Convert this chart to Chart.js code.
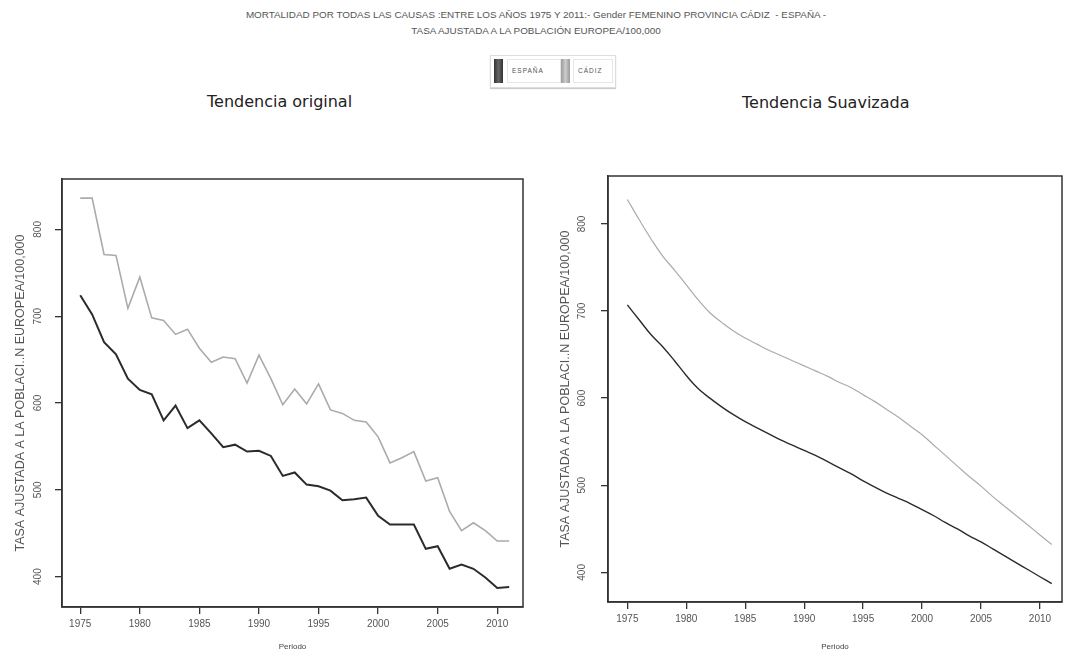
<!DOCTYPE html>
<html lang="es">
<head>
    <meta charset="UTF-8">
    <title>Mortalidad por todas las causas - Cádiz / España</title>
    <script src="https://cdn.jsdelivr.net/npm/chart.js"></script>
    <style>
        body {
            margin: 0;
            width: 1072px;
            height: 657px;
            background: #fff;
            position: relative;
            overflow: hidden;
            font-family: "Liberation Sans", Arial, sans-serif;
        }
        .titulo {
            position: absolute;
            left: 0;
            width: 1072px;
            text-align: center;
            font-size: 9.9px;
            color: #555;
            white-space: pre;
        }
        .leyenda {
            position: absolute;
            left: 490px;
            top: 55px;
            width: 124px;
            height: 31px;
            border: 1px solid #ddd;
            box-shadow: 0 1px 1px #ccc;
        }
        .swatch {
            position: absolute;
            top: 3px;
            width: 9px;
            height: 24px;
        }
        .caja {
            position: absolute;
            top: 3px;
            height: 22px;
            border: 1px solid #e6e6e6;
        }
        .etq {
            position: absolute;
            top: 11px;
            font-size: 6.5px;
            letter-spacing: 1px;
            color: #555;
        }
        .subtitulo {
            position: absolute;
            font-family: "DejaVu Sans", sans-serif;
            font-size: 16px;
            color: #222;
        }
        .grafico { position: absolute; }
    </style>
</head>
<body>

    <div class="titulo" style="top:9px">MORTALIDAD POR TODAS LAS CAUSAS :ENTRE LOS AÑOS 1975 Y 2011:- Gender FEMENINO PROVINCIA CÁDIZ  - ESPAÑA -</div>
    <div class="titulo" style="top:25px">TASA AJUSTADA A LA POBLACIÓN EUROPEA/100,000</div>

    <div class="leyenda">
        <div class="swatch" style="left:3px;background:linear-gradient(90deg,#333,#666,#333)"></div>
        <div class="caja" style="left:16px;width:52px"></div>
        <div class="etq" style="left:21px">ESPAÑA</div>
        <div class="swatch" style="left:70px;background:linear-gradient(90deg,#999,#ccc,#999)"></div>
        <div class="caja" style="left:82px;width:38px"></div>
        <div class="etq" style="left:87px">CÁDIZ</div>
    </div>

    <div class="subtitulo" style="left:207px;top:92px">Tendencia original</div>
    <div class="subtitulo" style="left:742px;top:93px">Tendencia Suavizada</div>

    <div class="grafico" style="left:0;top:165px;width:535px;height:492px">
        <canvas id="original" width="535" height="492"></canvas>
    </div>
    <div class="grafico" style="left:540px;top:160px;width:532px;height:497px">
        <canvas id="suavizada" width="532" height="497"></canvas>
    </div>

    <script>
        const years = [1975, 1976, 1977, 1978, 1979, 1980, 1981, 1982, 1983, 1984,
                       1985, 1986, 1987, 1988, 1989, 1990, 1991, 1992, 1993, 1994,
                       1995, 1996, 1997, 1998, 1999, 2000, 2001, 2002, 2003, 2004,
                       2005, 2006, 2007, 2008, 2009, 2010, 2011];

        // tasas anuales observadas
        const espanaOriginal = [724, 702, 670, 656, 628, 615, 610, 580, 597, 571,
                                580, 565, 549, 552, 544, 545, 539, 516, 520, 506,
                                504, 499, 488, 489, 491, 470, 460, 460, 460, 432,
                                435, 409, 414, 409, 399, 387, 388];
        const cadizOriginal = [836, 836, 771, 770, 709, 745, 698, 695, 679, 685,
                               663, 647, 653, 651, 623, 655, 628, 598, 616, 599,
                               622, 592, 588, 580, 578, 561, 531, 537, 544, 510,
                               514, 475, 453, 462, 453, 441, 441];

        // tendencia suavizada
        const espanaSuave = [707, 690, 673, 659, 643, 626, 611, 600, 590, 581,
                             573, 566, 559, 552, 546, 540, 534, 527, 520, 513,
                             505, 498, 491, 485, 479, 472, 465, 457, 450, 442,
                             435, 427, 419, 411, 403, 395, 387];
        const cadizSuave = [828, 805, 783, 763, 747, 730, 713, 698, 687, 677,
                            669, 662, 655, 649, 643, 637, 631, 625, 618, 612,
                            604, 596, 587, 578, 568, 558, 546, 534, 522, 510,
                            499, 487, 476, 465, 454, 443, 432];

        const xTicks = [1975, 1980, 1985, 1990, 1995, 2000, 2005, 2010];
        const yTicks = [400, 500, 600, 700, 800];

        const ejeY = 'TASA AJUSTADA A LA POBLACI..N EUROPEA/100,000';

        const pares = serie => years.map((y, i) => ({ x: y, y: serie[i] }));

        // marco completo alrededor del área de trazado
        const marco = {
            id: 'marco',
            afterDraw(chart) {
                const { ctx, chartArea: a } = chart;
                ctx.save();
                ctx.strokeStyle = '#333';
                ctx.lineWidth = 1.5;
                ctx.strokeRect(a.left, a.top, a.right - a.left, a.bottom - a.top);
                ctx.restore();
            }
        };

        function crearGrafico(id, espana, cadiz, cfg) {
            const ctx = document.getElementById(id).getContext('2d');
            return new Chart(ctx, {
                type: 'line',
                data: {
                    datasets: [{
                        label: 'ESPAÑA',
                        data: pares(espana),
                        borderColor: '#2b2b2b',
                        borderWidth: cfg.anchoEsp,
                        pointRadius: 0,
                        tension: cfg.tension
                    }, {
                        label: 'CÁDIZ',
                        data: pares(cadiz),
                        borderColor: '#ababab',
                        borderWidth: cfg.anchoCad,
                        pointRadius: 0,
                        tension: cfg.tension
                    }]
                },
                options: {
                    responsive: false,
                    animation: false,
                    layout: { padding: { top: cfg.top, right: cfg.right, left: 0, bottom: 0 } },
                    plugins: {
                        legend: { display: false },
                        tooltip: { enabled: false }
                    },
                    scales: {
                        x: {
                            type: 'linear',
                            min: cfg.xMin,
                            max: cfg.xMax,
                            afterBuildTicks: s => { s.ticks = xTicks.map(v => ({ value: v })); },
                            afterFit: s => { s.height = cfg.altoX; },
                            grid: { display: true, drawOnChartArea: false, drawTicks: true, tickLength: 7, color: '#333', lineWidth: 1.3 },
                            border: { display: true, color: '#333', width: 1.5 },
                            ticks: {
                                callback: v => String(v),
                                font: { family: 'Liberation Sans', size: 10 },
                                color: '#555',
                                padding: 4,
                                maxRotation: 0
                            },
                            title: {
                                display: true,
                                text: 'Periodo',
                                font: { family: 'Liberation Sans', size: 8 },
                                color: '#444',
                                padding: { top: 0, bottom: 5 }
                            }
                        },
                        y: {
                            min: cfg.yMin,
                            max: cfg.yMax,
                            afterBuildTicks: s => { s.ticks = yTicks.map(v => ({ value: v })); },
                            afterFit: s => { s.width = cfg.anchoY; },
                            grid: { display: true, drawOnChartArea: false, drawTicks: true, tickLength: 7, color: '#333', lineWidth: 1.3 },
                            border: { display: true, color: '#333', width: 1.5 },
                            ticks: {
                                callback: v => String(v),
                                font: { family: 'Liberation Sans', size: 10 },
                                color: '#555',
                                minRotation: 90,
                                maxRotation: 90,
                                crossAlign: 'center',
                                padding: cfg.padTicks
                            },
                            title: {
                                display: true,
                                text: ejeY,
                                font: { family: 'Liberation Sans', size: 12.5 },
                                color: '#555',
                                padding: { top: cfg.padTitulo, bottom: 0 }
                            }
                        }
                    }
                },
                plugins: [marco]
            });
        }

        crearGrafico('original', espanaOriginal, cadizOriginal, {
            anchoEsp: 2, anchoCad: 1.6, tension: 0,
            top: 10, right: 12, anchoY: 62, altoX: 50,
            xMin: 1973.47, xMax: 2012.16, yMin: 365, yMax: 858,
            padTicks: 8, padTitulo: 13
        });

        crearGrafico('suavizada', espanaSuave, cadizSuave, {
            anchoEsp: 1.4, anchoCad: 1.2, tension: 0.4,
            top: 13, right: 10, anchoY: 68, altoX: 55,
            xMin: 1973.36, xMax: 2011.87, yMin: 366, yMax: 855,
            padTicks: 10, padTitulo: 18
        });
    </script>

</body>
</html>
